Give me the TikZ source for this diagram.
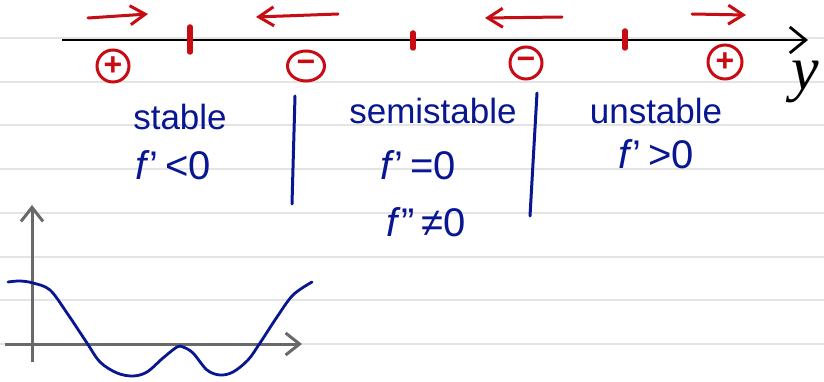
\documentclass[tikz,border=0pt]{standalone}
\usepackage{fontspec}
\setmainfont{Liberation Sans}
\newfontfamily\yfont{Liberation Serif}
\usetikzlibrary{arrows.meta,shapes.geometric}
\definecolor{ink}{RGB}{8,22,145}
\definecolor{redink}{RGB}{200,12,20}
\definecolor{paperrule}{RGB}{228,228,228}
\definecolor{axgray}{RGB}{105,105,105}
\tikzset{
  paperline/.style={paperrule, line width=1.5pt},
  mainaxis/.style={black, line width=2.8pt, -{Straight Barb[length=16pt,width=26pt,line width=2.8pt]}},
  redarrow/.style={redink, line width=3pt, line cap=round, -{Straight Barb[length=15pt,width=19pt,line width=3pt]}},
  redtick/.style={redink, line width=5.5pt, line cap=round},
  signmark/.style={circle, draw=redink, line width=3pt, minimum size=32pt, inner sep=0pt, text=redink, font=\fontsize{32}{32}\selectfont\bfseries},
  bluetext/.style={ink, font=\fontsize{35}{36}\selectfont, inner sep=0pt, anchor=base},
  formula/.style={ink, font=\fontsize{40}{42}\selectfont, inner sep=0pt, anchor=base},
  divider/.style={ink, line width=3pt, line cap=round},
  smallaxis/.style={axgray, line width=3pt, -{Straight Barb[length=14pt,width=22pt,line width=3pt]}},
  curveline/.style={ink, line width=2.8pt, line cap=round}
}
\begin{document}
\begin{tikzpicture}[x=1pt,y=-1pt]
\useasboundingbox[fill=white] (0,0) rectangle (824,382);
% ruled paper
\foreach \yy in {38,82,125,169,213,257,300,344}
  \draw[paperline] (0,\yy) -- (824,\yy);
% main axis
\coordinate (ax0) at (62,40);
\coordinate (ax1) at (808,40);
\draw[mainaxis] (ax0) -- (ax1);
\node[font=\fontsize{62}{62}\selectfont\yfont\itshape, inner sep=0pt] (ylab) at (805,82) {y};
% red ticks
\coordinate (t1a) at (190,27); \coordinate (t1b) at (190,52);
\coordinate (t2a) at (413,33); \coordinate (t2b) at (413,48);
\coordinate (t3a) at (625,31); \coordinate (t3b) at (625,48);
\draw[redtick] (t1a) -- (t1b);
\draw[redtick] (t2a) -- (t2b);
\draw[redtick] (t3a) -- (t3b);
% red arrows
\coordinate (a1s) at (88,18);  \coordinate (a1e) at (148,14);
\coordinate (a2s) at (338,14); \coordinate (a2e) at (256,17);
\coordinate (a3s) at (562,17); \coordinate (a3e) at (485,18);
\coordinate (a4s) at (692,14); \coordinate (a4e) at (746,15);
\draw[redarrow] (a1s) -- (a1e);
\draw[redarrow] (a2s) -- (a2e);
\draw[redarrow] (a3s) -- (a3e);
\draw[redarrow] (a4s) -- (a4e);
% signs
\node[signmark] (s1) at (113,66) {+};
\node[signmark, ellipse, minimum width=37pt, minimum height=30pt] (s2) at (306,66) {−};
\node[signmark] (s3) at (526,63) {−};
\node[signmark, minimum size=34pt] (s4) at (725,62) {+};
% labels
\node[bluetext] (stable) at (180,130) {stable};
\node[formula] (fst) at (173,180) {\textit{f}'\,<0};
\node[bluetext] (semi) at (433,124) {semistable};
\node[formula] (fsemi1) at (418,180) {\textit{f}'\,=0};
\node[formula] (fsemi2) at (426,236) {\textit{f}''\,≠0};
\node[bluetext] (unst) at (656,124) {unstable};
\node[formula] (fun) at (656,169) {\textit{f}'\,>0};
% dividers
\coordinate (d1a) at (295,96);  \coordinate (d1b) at (292,204);
\coordinate (d2a) at (537,93);  \coordinate (d2b) at (530,216);
\draw[divider] (d1a) -- (d1b);
\draw[divider] (d2a) -- (d2b);
% small graph
\coordinate (vy0) at (32,362); \coordinate (vy1) at (32,205);
\coordinate (hx0) at (5,344);  \coordinate (hx1) at (302,344);
\draw[smallaxis] (vy0) -- (vy1);
\draw[smallaxis] (hx0) -- (hx1);
\draw[curveline] plot[smooth, tension=0.55] coordinates {
 (8,282) (20,281) (33,283) (50,290) (67,313) (87,343) (100,362) (117,373)
 (133,376) (147,372) (163,358) (177,347) (183,347) (193,353) (207,370)
 (220,375) (233,372) (248,360) (260,343) (277,317) (293,295) (312,282)};
\end{tikzpicture}
\end{document}
